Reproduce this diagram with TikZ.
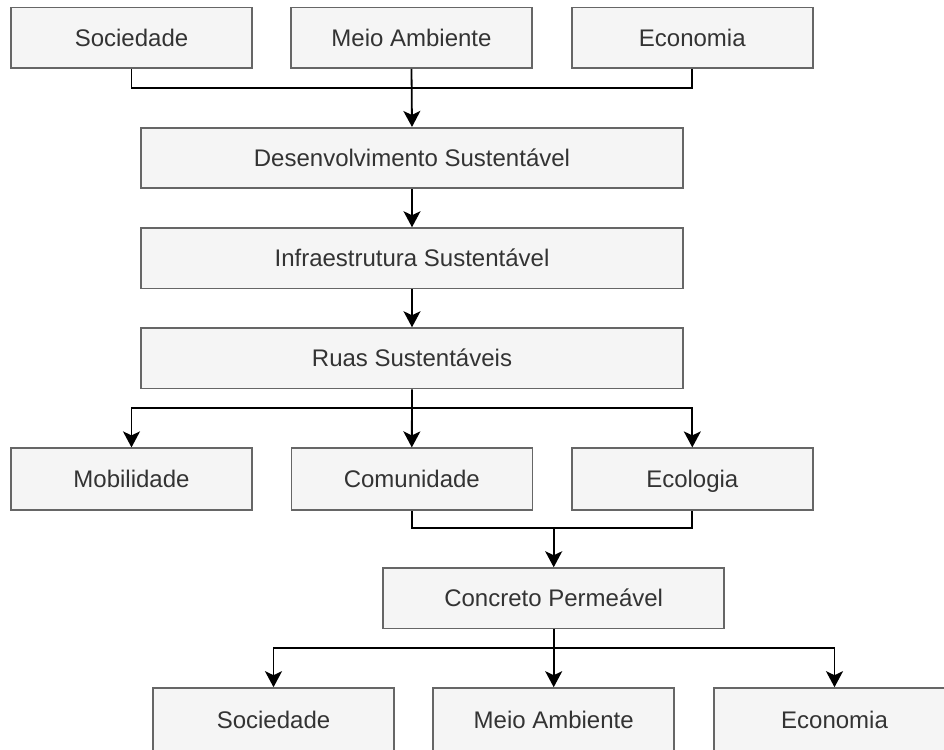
\documentclass[tikz,border=0pt]{standalone}
\usepackage{fontspec}
\setmainfont{Liberation Sans}
\usetikzlibrary{arrows.meta}
\definecolor{boxfill}{HTML}{F5F5F5}
\definecolor{boxline}{HTML}{666666}
\definecolor{boxtext}{HTML}{333333}
\tikzset{
  box/.style={draw=boxline, fill=boxfill, line width=1.6pt, text=boxtext,
    font=\fontsize{24}{28}\selectfont, inner sep=0pt,
    text height=20pt, text depth=2.8pt, minimum height=60.5pt},
  smallbox/.style={box, minimum width=241pt},
  widebox/.style={box, minimum width=541.5pt},
  link/.style={draw=black, line width=1.8pt},
  arrow/.style={link, -{Stealth[length=16pt, width=17pt, inset=4pt]}}
}
\begin{document}
\begin{tikzpicture}[x=1pt, y=-1pt]
  \useasboundingbox (0,0) rectangle (944,749);
  \clip (0,0) rectangle (944,749);

  % first row: the three pillars
  \node[smallbox] (soc1) at (131.5,37.75) {Sociedade};
  \node[smallbox] (mei1) at (411.5,37.75) {Meio Ambiente};
  \node[smallbox] (eco1) at (692.3,37.75) {Economia};

  % central chain
  \node[widebox] (des) at (412,158) {Desenvolvimento Sustentável};
  \node[widebox] (inf) at (412,258.3) {Infraestrutura Sustentável};
  \node[widebox] (rua) at (412,358.3) {Ruas Sustentáveis};

  % second row
  \node[smallbox, minimum height=62pt] (mob) at (131.5,479.2) {Mobilidade};
  \node[smallbox, minimum height=62pt] (com) at (411.8,479.2) {Comunidade};
  \node[smallbox, minimum height=62pt] (ecl) at (692.3,479.2) {Ecologia};

  \node[box, minimum width=341pt] (con) at (553.7,598.3) {Concreto Permeável};

  % last row, running past the lower and right edges
  \node[smallbox, minimum height=63pt] (soc2) at (273.5,719.5) {Sociedade};
  \node[smallbox, minimum height=63pt] (mei2) at (553.7,719.5) {Meio Ambiente};
  \node[smallbox, minimum height=63pt] (eco2) at (834.5,719.5) {Economia};

  % junction points
  \coordinate (j1) at (411.8,88);
  \coordinate (j2) at (411.8,408);
  \coordinate (j3) at (553.7,528);
  \coordinate (j4) at (553.7,648.3);

  % connectors
  \draw[link] (soc1.south) |- (j1);
  \draw[link] (eco1.south) |- (j1);
  \draw[arrow] (mei1.south) -- (des.north);
  \draw[arrow] (des.south) -- (inf.north);
  \draw[arrow] (inf.south) -- (rua.north);
  \draw[arrow] (rua.south) -- (com.north);
  \draw[arrow] (j2) -| (mob.north);
  \draw[arrow] (j2) -| (ecl.north);
  \draw[link] (com.south) |- (j3);
  \draw[link] (ecl.south) |- (j3);
  \draw[arrow] (j3) -- (con.north);
  \draw[arrow] (con.south) -- (mei2.north);
  \draw[arrow] (j4) -| (soc2.north);
  \draw[arrow] (j4) -| (eco2.north);
\end{tikzpicture}
\end{document}
